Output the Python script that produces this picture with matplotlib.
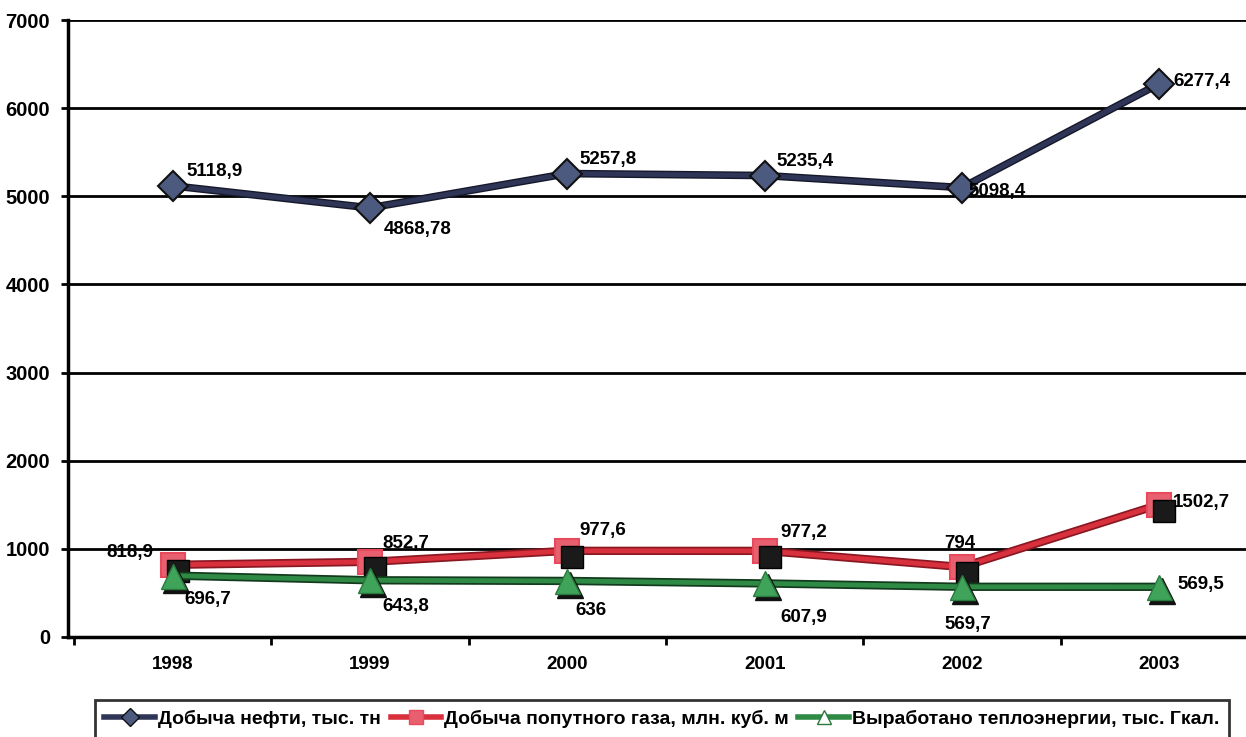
import matplotlib
matplotlib.use('Agg')
import matplotlib.pyplot as plt
import matplotlib.patheffects as pe
from matplotlib.transforms import offset_copy
from matplotlib.lines import Line2D

years = ['1998', '1999', '2000', '2001', '2002', '2003']
oil = [5118.9, 4868.78, 5257.8, 5235.4, 5098.4, 6277.4]
gas = [818.9, 852.7, 977.6, 977.2, 794, 1502.7]
heat = [696.7, 643.8, 636, 607.9, 569.7, 569.5]

oil_labels = ['5118,9', '4868,78', '5257,8', '5235,4', '5098,4', '6277,4']
gas_labels = ['818,9', '852,7', '977,6', '977,2', '794', '1502,7']
heat_labels = ['696,7', '643,8', '636', '607,9', '569,7', '569,5']

names = ['Добыча нефти, тыс. тн', 'Добыча попутного газа, млн. куб. м',
         'Выработано теплоэнергии, тыс. Гкал.']

plt.rcParams['font.family'] = ['Liberation Sans', 'DejaVu Sans']
plt.rcParams['font.weight'] = 'bold'

fig = plt.figure(figsize=(12.46, 7.37), dpi=100)
ax = fig.add_axes([68 / 1246, 1 - 637 / 737, 1190 / 1246, 617 / 737])

x = list(range(len(years)))

# oil
ax.plot(x, oil, color='#2f3556', lw=3.5, zorder=3,
        path_effects=[pe.Stroke(linewidth=5.5, foreground='#15182a'), pe.Normal()])
ax.plot(x, oil, ls='none', marker='D', ms=15, mfc='#4d5a80', mec='#111111', mew=1.5, zorder=4)

# gas: red line, pink squares with black offset squares
ax.plot(x, gas, color='#d8303c', lw=3.5, zorder=3,
        path_effects=[pe.Stroke(linewidth=6, foreground='#8a1822'), pe.Normal()])
ax.plot(x, gas, ls='none', marker='s', ms=17, mfc='#e86070', mec='#e84a5c', mew=1.5, zorder=4)
shadow = offset_copy(ax.transData, fig=fig, x=5, y=-6, units='dots')
ax.plot(x, gas, ls='none', marker='s', ms=16, mfc='#1a1a1a', mec='#000000', transform=shadow, zorder=5)

# heat: green line, triangles with black shadow
ax.plot(x, heat, color='#2f8a45', lw=3.5, zorder=6,
        path_effects=[pe.Stroke(linewidth=6, foreground='#123a1c'), pe.Normal()])
shadow2 = offset_copy(ax.transData, fig=fig, x=3, y=-4, units='dots')
ax.plot(x, heat, ls='none', marker='^', ms=19, mfc='#111111', mec='#111111', transform=shadow2, zorder=7)
ax.plot(x, heat, ls='none', marker='^', ms=18, mfc='#3fa45a', mec='#2a7a3e', mew=1, zorder=8)

ax.set_xlim(-0.53, 5.5)
ax.set_ylim(0, 7000)
ax.set_yticks(range(0, 7001, 1000))
ax.set_xticks(x)
ax.set_xticklabels(years)
ax.set_xticks([i + 0.5 for i in range(-1, 6)], minor=True)
ax.tick_params(axis='x', which='major', length=0, pad=14, labelsize=13.5)
ax.tick_params(axis='x', which='minor', length=6, width=2, direction='out')
ax.tick_params(axis='y', length=5, width=2, labelsize=14.5, pad=8)
ax.yaxis.grid(True, color='black', lw=2)
ax.set_axisbelow(True)
for s in ['top', 'right']:
    ax.spines[s].set_visible(False)
ax.spines['left'].set_linewidth(2.5)
ax.spines['bottom'].set_linewidth(2.5)

oil_off = [(14, 14), (14, -22), (12, 14), (12, 14), (6, -4), (14, 2)]
gas_off = [(-66, 12), (12, 18), (12, 20), (16, 18), (-18, 24), (14, 2)]
heat_off = [(12, -24), (12, -26), (8, -30), (16, -34), (-18, -38), (18, 2)]

def label(vals, texts, offs, ha='left'):
    for i, (v, t, o) in enumerate(zip(vals, texts, offs)):
        ax.annotate(t, (i, v), xytext=o, textcoords='offset pixels',
                    fontsize=13.5, fontweight='bold', va='center', ha=ha, zorder=10)

label(oil, oil_labels, oil_off)
label(gas, gas_labels, gas_off)
label(heat, heat_labels, heat_off)

handles = [
    Line2D([], [], color='#2f3556', lw=4, marker='D', ms=9, mfc='#4d5a80', mec='#111111'),
    Line2D([], [], color='#d8303c', lw=4, marker='s', ms=10, mfc='#e86070', mec='#e84a5c'),
    Line2D([], [], color='#2f8a45', lw=4, marker='^', ms=10, mfc='white', mec='#2a7a3e'),
]
leg = fig.legend(handles, names, loc='lower left', bbox_to_anchor=(85 / 1246, -0.014),
                 ncol=3, frameon=True, fancybox=False, handlelength=2.6, handletextpad=0.15,
                 columnspacing=0.5, prop={'weight': 'bold', 'size': 14}, borderpad=0.5)
leg.get_frame().set_edgecolor('black')
leg.get_frame().set_linewidth(2)

fig.savefig('out.png', dpi=100)
